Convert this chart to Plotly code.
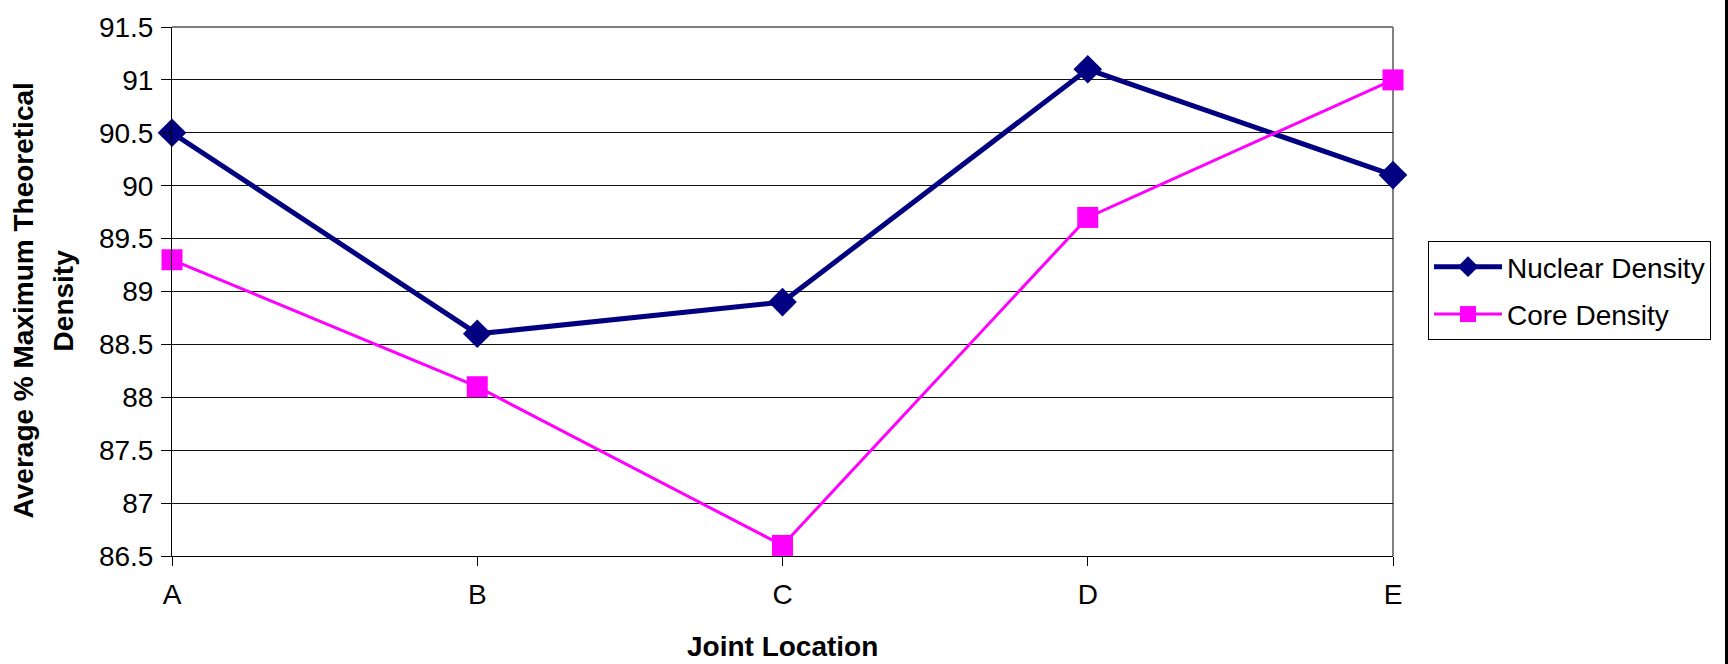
import plotly.graph_objects as go

categories = ["A", "B", "C", "D", "E"]
nuclear_density = [90.5, 88.6, 88.9, 91.1, 90.1]
core_density = [89.3, 88.1, 86.6, 89.7, 91.0]
y_tick_vals = [86.5, 87, 87.5, 88, 88.5, 89, 89.5, 90, 90.5, 91, 91.5]
y_tick_text = ["86.5", "87", "87.5", "88", "88.5", "89", "89.5", "90", "90.5", "91", "91.5"]

FONT = "Liberation Sans, Arial, sans-serif"
W, H = 1728, 664
L, R, T, B = 172, 335, 22, 108
pw = W - L - R
ph = H - T - B

def px_x(x):
    return (x - L) / pw

def px_y(y):
    return (H - B - y) / ph

fig = go.Figure()
fig.add_trace(go.Scatter(
    x=categories, y=nuclear_density, name="Nuclear Density", mode="lines+markers",
    line=dict(color="#000080", width=5),
    marker=dict(symbol="diamond", size=22, color="#000080"),
    cliponaxis=False, legendgroup="n",
))
fig.add_trace(go.Scatter(
    x=categories, y=core_density, name="Core Density", mode="lines+markers",
    line=dict(color="#FF00FF", width=3),
    marker=dict(symbol="square", size=21, color="#FF00FF"),
    cliponaxis=False, legendgroup="c",
))

fig.update_layout(
    width=W, height=H,
    margin=dict(l=L, r=R, t=T, b=B),
    paper_bgcolor="white", plot_bgcolor="white",
    font=dict(family=FONT, size=28, color="black"),
    showlegend=True,
    legend=dict(
        x=px_x(1428), y=px_y(238), xanchor="left", yanchor="top",
        bordercolor="#000000", borderwidth=1, bgcolor="white",
        font=dict(family=FONT, size=28, color="black"),
        tracegroupgap=8, itemwidth=68,
    ),
    xaxis=dict(
        type="category", categoryorder="array", categoryarray=categories,
        range=[0, len(categories) - 1],
        showgrid=False, zeroline=False,
        showline=True, linecolor="#000000", linewidth=1,
        ticks="outside", ticklen=9, tickcolor="#000000", tickwidth=1,
        tickfont=dict(family=FONT, size=28, color="black"),
        ticklabelstandoff=4,
    ),
    yaxis=dict(
        range=[86.5, 91.5],
        tickmode="array", tickvals=y_tick_vals, ticktext=y_tick_text,
        showgrid=True, gridcolor="#111111", gridwidth=1,
        zeroline=False,
        showline=True, linecolor="#000000", linewidth=1,
        ticks="outside", ticklen=10, tickcolor="#000000", tickwidth=1,
        tickfont=dict(family=FONT, size=28, color="black"),
        ticklabelstandoff=2,
    ),
    annotations=[
        dict(text="<b>Joint Location</b>", x=0.5, y=px_y(647), xref="paper", yref="paper",
             xanchor="center", yanchor="middle", showarrow=False,
             font=dict(family=FONT, size=28, color="black")),
        dict(text="<b>Average % Maximum Theoretical</b>", x=px_x(23), y=px_y(298),
             xref="paper", yref="paper", xanchor="center", yanchor="middle",
             textangle=-90, showarrow=False,
             font=dict(family=FONT, size=28, color="black")),
        dict(text="<b>Density</b>", x=px_x(63), y=px_y(298),
             xref="paper", yref="paper", xanchor="center", yanchor="middle",
             textangle=-90, showarrow=False,
             font=dict(family=FONT, size=28, color="black")),
    ],
    shapes=[
        dict(type="line", xref="paper", yref="paper", x0=0, x1=1, y0=1, y1=1,
             line=dict(color="#808080", width=2), layer="between"),
        dict(type="line", xref="paper", yref="paper", x0=1, x1=1, y0=0, y1=1,
             line=dict(color="#808080", width=2), layer="between"),
        dict(type="line", xref="paper", yref="paper", x0=px_x(1726.5), x1=px_x(1726.5),
             y0=-0.3, y1=1.2, line=dict(color="#000000", width=3), layer="above"),
    ],
)

fig.write_html(
    "out.html",
    config={"displayModeBar": False},
    post_script="document.body.style.margin='0px';document.body.style.overflow='hidden';",
)
